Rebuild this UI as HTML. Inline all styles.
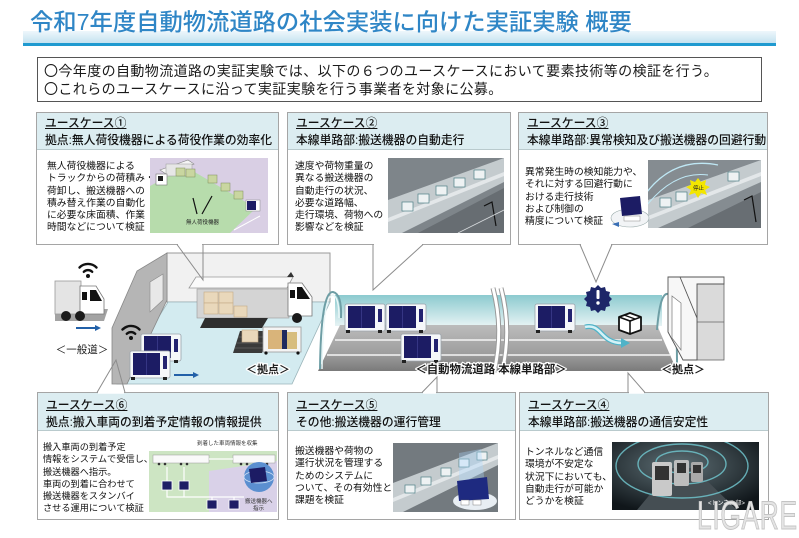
<!DOCTYPE html>
<html><head><meta charset="utf-8">
<style>
*{margin:0;padding:0;box-sizing:border-box}
body{width:799px;height:533px;position:relative;background:#fff;overflow:hidden;font-family:"Liberation Sans","Noto Sans CJK JP",sans-serif;color:#222}
.abs{position:absolute}
.title{left:30px;top:8px;font-size:23.3px;line-height:28px;color:#2f86c6;font-weight:500;white-space:nowrap;z-index:2}
.band{left:23px;top:31px;width:753px;height:12px;background:linear-gradient(to bottom,#eef7fc,#c4e2f0);z-index:1}
.bline{left:23px;top:43px;width:753px;height:3px;background:#1f9ad0;z-index:1}
.intro{left:37px;top:57px;width:725px;height:45px;border:1px solid #555;font-size:14px;letter-spacing:0.4px;line-height:17.5px;padding:5px 0 0 6px;white-space:nowrap;color:#1a1a1a}
.card{position:absolute;border:1px solid #a5a5a5;background:#fff;z-index:2}
.hd{background:#dcedf1;border-bottom:1px solid #b9cacd;font-size:11.8px;line-height:17px;color:#111;white-space:nowrap;padding-left:8px;font-weight:500}
.hd u{text-decoration:underline;text-underline-offset:1px}
.bd{position:absolute;font-size:9.8px;line-height:12.3px;white-space:nowrap;color:#111}
.im{position:absolute}
.lig{left:697px;top:494px;font-size:40px;line-height:44px;transform:scaleX(.66);transform-origin:left top;color:#e4e4e4;-webkit-text-stroke:1px #c4c4c4;z-index:4;letter-spacing:1px}
</style></head><body>

<div class="abs band"></div>
<div class="abs bline"></div>
<div class="abs title">令和7年度自動物流道路の社会実装に向けた実証実験 概要</div>

<div class="abs intro">〇今年度の自動物流道路の実証実験では、以下の６つのユースケースにおいて要素技術等の検証を行う。<br>〇これらのユースケースに沿って実証実験を行う事業者を対象に公募。</div>

<!-- middle illustration -->
<svg class="abs" style="left:0;top:0;z-index:0" width="799" height="533">
<defs>
<linearGradient id="tun" x1="0" y1="0" x2="0" y2="1"><stop offset="0" stop-color="#8ccacf"/><stop offset="1" stop-color="#e6f3f4"/></linearGradient>
<linearGradient id="road" x1="0" y1="0" x2="0" y2="1"><stop offset="0" stop-color="#bcbcbc"/><stop offset="0.65" stop-color="#9c9c9c"/><stop offset="1" stop-color="#7a7a7a"/></linearGradient>
<g id="car">
<rect x="0" y="1" width="40" height="27" rx="2" fill="#f5f7f9" stroke="#9aa3ab" stroke-width="0.8"/>
<rect x="3" y="3" width="27" height="22" fill="#1c1c64"/>
<line x1="16.5" y1="3" x2="16.5" y2="25" stroke="#3d3d8c" stroke-width="0.8"/>
<rect x="33" y="6" width="4" height="13" fill="#232370"/>
<rect x="1" y="27" width="4" height="3" fill="#222"/><rect x="33" y="27" width="4" height="3" fill="#222"/>
</g>
<g id="wifi" fill="none" stroke="#111" stroke-width="2.4" stroke-linecap="round">
<path d="M-4.2,-4.2 A6,6 0 0 1 4.2,-4.2"/>
<path d="M-8.5,-8.5 A12,12 0 0 1 8.5,-8.5"/>
<circle cx="0" cy="0" r="2" fill="#111" stroke="none"/>
</g>
</defs>

<!-- left truck general road -->
<polygon points="55,309 108,309 104,321 55,321" fill="#a3a3a3"/>
<rect x="55" y="281" width="26" height="33" fill="#e4e4e4" stroke="#999" stroke-width="0.8"/>
<polygon points="80,286 96,286 104,299 104,314 80,314" fill="#fff" stroke="#777" stroke-width="0.8"/>
<polygon points="90,290 96,290 102,301 90,301" fill="#111"/>
<rect x="82" y="292" width="5" height="8" fill="#111"/>
<circle cx="66" cy="316" r="5" fill="#1a1a1a"/><circle cx="80" cy="316" r="5" fill="#1a1a1a"/>
<use href="#wifi" x="88" y="276"/>
<line x1="76" y1="328" x2="96" y2="328" stroke="#2260a8" stroke-width="2"/>
<polygon points="95,325 101,328 95,331" fill="#2260a8"/>
<text x="82" y="353" font-size="10.5" text-anchor="middle" font-family="Liberation Sans,Noto Sans CJK JP,sans-serif" fill="#222">＜一般道＞</text>

<!-- base building -->
<rect x="167" y="253" width="163" height="49" fill="#f1f1f1" stroke="#999" stroke-width="1"/>
<polygon points="117,384 168,302 330,302 292,384" fill="#d3ebf0" stroke="#9bb5ba" stroke-width="0.8"/>
<polygon points="112,384 112,328 137,271 167,253 167,300 127,384" fill="#b5b5b5" stroke="#888" stroke-width="0.8"/>
<polygon points="150,282 163,274 163,300 150,312" fill="#e8e8e8" stroke="#888" stroke-width="0.6"/>
<!-- big truck -->
<rect x="197" y="289" width="92" height="29" fill="#d4d4d4" stroke="#999" stroke-width="0.6"/>
<polygon points="189,288 196,277 293,277 287,288" fill="#fafafa" stroke="#999" stroke-width="0.8"/>
<polygon points="287,277 291,272 294,277" fill="#333"/>
<rect x="204" y="292" width="14" height="11" fill="#e9d8bb" stroke="#c4ab85" stroke-width="0.6"/>
<rect x="219" y="292" width="14" height="11" fill="#e9d8bb" stroke="#c4ab85" stroke-width="0.6"/>
<rect x="204" y="303" width="14" height="11" fill="#e9d8bb" stroke="#c4ab85" stroke-width="0.6"/>
<rect x="219" y="303" width="14" height="11" fill="#e9d8bb" stroke="#c4ab85" stroke-width="0.6"/>
<rect x="234" y="306" width="13" height="11" fill="#e9d8bb" stroke="#c4ab85" stroke-width="0.6"/>
<polygon points="288,283 302,283 312,297 312,316 288,316" fill="#fff" stroke="#777" stroke-width="0.8"/>
<polygon points="297,287 302,287 310,299 297,299" fill="#111"/>
<rect x="290" y="290" width="5" height="8" fill="#111"/>
<circle cx="297" cy="318" r="5" fill="#1a1a1a"/>
<polygon points="205,318 268,318 262,328 200,328" fill="#2e2e2e"/>
<polygon points="240,331 270,331 262,353 233,353" fill="#3a3a3a"/>
<line x1="238" y1="337" x2="267" y2="337" stroke="#777" stroke-width="0.6"/>
<line x1="236" y1="343" x2="265" y2="343" stroke="#777" stroke-width="0.6"/>
<line x1="235" y1="348" x2="263" y2="348" stroke="#777" stroke-width="0.6"/>
<rect x="242" y="330" width="16" height="12" fill="#e9d8bb" stroke="#c4ab85" stroke-width="0.6"/>
<!-- cart -->
<rect x="263" y="327" width="38" height="25" fill="#f4f4f4" stroke="#999" stroke-width="0.8"/>
<rect x="268" y="330" width="14" height="19" fill="#d9b47a"/>
<rect x="282" y="330" width="5" height="19" fill="#1f2a5e"/>
<rect x="287" y="332" width="10" height="17" fill="#d7bd7e"/>
<circle cx="266" cy="353" r="1.6" fill="#111"/><circle cx="298" cy="353" r="1.6" fill="#111"/>
<!-- carriers in base -->
<use href="#car" x="141" y="333"/>
<use href="#car" x="130" y="350"/>
<use href="#wifi" x="131" y="338"/>
<line x1="174" y1="375" x2="194" y2="375" stroke="#2260a8" stroke-width="2"/>
<polygon points="193,372 199,375 193,378" fill="#2260a8"/>
<text x="268" y="373" font-size="11" font-weight="700" text-anchor="middle" fill="#222" stroke="#fff" stroke-width="2.5" paint-order="stroke" font-family="Liberation Sans,Noto Sans CJK JP,sans-serif">＜拠点＞</text>

<!-- tunnel / main road -->
<rect x="335" y="295" width="327" height="31" fill="url(#tun)"/>
<polygon points="340,325 657,325 677,371 318,371" fill="url(#road)"/>
<line x1="335" y1="340" x2="662" y2="340" stroke="#f4f4f4" stroke-width="1.4"/>
<line x1="327" y1="355" x2="670" y2="355" stroke="#f4f4f4" stroke-width="1.4"/>
<path d="M320,369 Q321,291 333,292 Q342,294 341,318" fill="none" stroke="#6e9ea5" stroke-width="2"/>
<path d="M322,369 Q323,295 333,295 Q339,297 339,318" fill="none" stroke="#e8f6f7" stroke-width="1.5"/>
<path d="M657,330 Q660,292 668,294 Q677,298 677,365" fill="none" stroke="#6e9ea5" stroke-width="2"/>
<path d="M493,288 Q504,330 494,372" fill="none" stroke="#999" stroke-width="5"/>
<path d="M493,288 Q504,330 494,372" fill="none" stroke="#fff" stroke-width="3"/>
<path d="M501,288 Q512,330 502,372" fill="none" stroke="#999" stroke-width="5"/>
<path d="M501,288 Q512,330 502,372" fill="none" stroke="#fff" stroke-width="3"/>
<use href="#car" x="345" y="303"/>
<use href="#car" x="386" y="303"/>
<use href="#car" x="401" y="333"/>
<use href="#car" x="535" y="303"/>
<!-- alert badge -->
<polygon points="598,285 601,288 605,287 606,291 610,292 609,296 612,299 609,302 610,306 606,307 605,311 601,310 598,313 595,310 591,311 590,307 586,306 587,302 584,299 587,296 586,292 590,291 591,287 595,288" fill="#1d2668"/>
<rect x="596.5" y="290" width="3" height="9" rx="1" fill="#fff"/>
<circle cx="598" cy="303" r="1.7" fill="#fff"/>
<!-- cyan arrow -->
<path d="M585,327 C602,323 600,343 622,343" fill="none" stroke="#4fb3c8" stroke-width="5"/>
<path d="M585,327 C602,323 600,343 622,343" fill="none" stroke="#d4f2f7" stroke-width="2.5"/>
<polygon points="621,338 630,343 621,348" fill="#4fb3c8"/>
<!-- box icon -->
<polygon points="619,317 630,313 641,317 641,330 630,334 619,330" fill="#fff" stroke="#111" stroke-width="1.8" stroke-linejoin="round"/>
<polyline points="619,317 630,321 641,317" fill="none" stroke="#111" stroke-width="1.6"/>
<line x1="630" y1="321" x2="630" y2="334" stroke="#111" stroke-width="1.6"/>
<line x1="624" y1="315" x2="635" y2="319" stroke="#111" stroke-width="1.2"/>
<!-- right building -->
<rect x="697" y="284" width="27" height="76" fill="#dadada" stroke="#666" stroke-width="0.8"/>
<line x1="697" y1="322" x2="724" y2="322" stroke="#666" stroke-width="0.8"/>
<polygon points="668,277 724,277 724,284 697,284 697,360 683,360 668,332" fill="#f7f7f7" stroke="#555" stroke-width="0.9"/>
<line x1="680" y1="277" x2="697" y2="318" stroke="#555" stroke-width="0.9"/>
<polygon points="672,296 681,303 681,350 672,338" fill="#fff" stroke="#777" stroke-width="0.7"/>
<text x="491" y="373" font-size="11.4" font-weight="700" text-anchor="middle" fill="#1a1a1a" stroke="#fff" stroke-width="2.5" paint-order="stroke" font-family="Liberation Sans,Noto Sans CJK JP,sans-serif">＜自動物流道路 本線単路部＞</text>
<text x="683" y="373" font-size="11" font-weight="700" text-anchor="middle" fill="#1a1a1a" stroke="#fff" stroke-width="2.5" paint-order="stroke" font-family="Liberation Sans,Noto Sans CJK JP,sans-serif">＜拠点＞</text>
</svg>

<!-- Card 1 -->
<div class="card" style="left:36px;top:112px;width:243px;height:133px">
<div class="hd" style="height:37px;padding-top:2px"><u>ユースケース①</u><br>拠点:無人荷役機器による荷役作業の効率化</div>
<div class="bd" style="left:10px;top:48px">無人荷役機器による<br>トラックからの荷積み・<br>荷卸し、搬送機器への<br>積み替え作業の自動化<br>に必要な床面積、作業<br>時間などについて検証</div>
<svg class="im" style="left:113px;top:45px" width="118" height="75">
<rect width="118" height="75" fill="#d9cfe4"/>
<polygon points="0,28 36,9 106,50 80,75 0,75" fill="#b7dcac"/>
<polygon points="10,12 38,2 44,6 16,16" fill="#f5f5f5" stroke="#888" stroke-width=".6"/>
<rect x="16" y="6" width="26" height="12" fill="#e6e6e6" stroke="#999" stroke-width=".5"/>
<rect x="6" y="16" width="11" height="11" fill="#fff" stroke="#777" stroke-width=".6"/>
<rect x="8" y="18" width="5" height="5" fill="#222"/>
<rect x="26" y="10" width="9" height="8" fill="#c9d6a0" stroke="#7f8d5a" stroke-width=".5"/>
<rect x="36" y="11" width="9" height="8" fill="#c9d6a0" stroke="#7f8d5a" stroke-width=".5"/>
<rect x="58" y="17" width="9" height="8" fill="#c9d6a0" stroke="#7f8d5a" stroke-width=".5"/>
<rect x="71" y="25" width="9" height="8" fill="#c9d6a0" stroke="#7f8d5a" stroke-width=".5"/>
<rect x="84" y="33" width="9" height="8" fill="#c9d6a0" stroke="#7f8d5a" stroke-width=".5"/>
<rect x="96" y="42" width="14" height="11" fill="#fff" stroke="#888" stroke-width=".5"/>
<rect x="97" y="43" width="9" height="9" fill="#1c1c64"/>
<line x1="47" y1="56" x2="43" y2="40" stroke="#111" stroke-width="1.2"/>
<line x1="52" y1="56" x2="62" y2="38" stroke="#111" stroke-width="1.2"/>
<text x="36" y="66" font-size="5.5" fill="#222" font-family="Liberation Sans,Noto Sans CJK JP,sans-serif">無人荷役機器</text>
<line x1="84" y1="72" x2="110" y2="58" stroke="#fff" stroke-width="1"/>
</svg>
</div>

<!-- Card 2 -->
<div class="card" style="left:287px;top:112px;width:224px;height:133px">
<div class="hd" style="height:37px;padding-top:2px"><u>ユースケース②</u><br>本線単路部:搬送機器の自動走行</div>
<div class="bd" style="left:7px;top:48px">速度や荷物重量の<br>異なる搬送機器の<br>自動走行の状況、<br>必要な道路幅、<br>走行環境、荷物への<br>影響などを検証</div>
<svg class="im" style="left:100px;top:45px" width="116" height="75">
<rect width="116" height="75" fill="#7e858a"/>
<polygon points="0,42 116,0 116,24 14,75 0,75" fill="#c4cbce"/>
<polygon points="0,60 116,14 116,18 0,64" fill="#e3e7e9"/>
<polygon points="30,75 116,30 116,75" fill="#676d72"/>
<g fill="#eef2f3" stroke="#4d7f86" stroke-width=".7">
<rect x="14" y="44" width="11" height="9"/><rect x="30" y="36" width="11" height="9"/><rect x="48" y="28" width="11" height="9"/><rect x="66" y="20" width="11" height="9"/><rect x="86" y="12" width="11" height="9"/>
</g>
<path d="M96,48 L104,44 L108,68" fill="none" stroke="#111" stroke-width="1.2"/>
<line x1="70" y1="75" x2="116" y2="52" stroke="#d8dcde" stroke-width=".8"/>
</svg>
</div>

<!-- Card 3 -->
<div class="card" style="left:518px;top:112px;width:250px;height:133px">
<div class="hd" style="height:37px;padding-top:2px"><u>ユースケース③</u><br>本線単路部:異常検知及び搬送機器の回避行動</div>
<svg class="im" style="left:129px;top:47px" width="113" height="68">
<rect width="113" height="68" fill="#858c91"/>
<polygon points="0,40 113,0 113,22 10,68 0,68" fill="#c4cbce"/>
<polygon points="0,56 113,12 113,16 0,60" fill="#e3e7e9"/>
<polygon points="40,68 113,32 113,68" fill="#686e73"/>
<g fill="#eef2f3" stroke="#4d7f86" stroke-width=".7">
<rect x="12" y="38" width="11" height="9"/><rect x="28" y="32" width="11" height="9"/><rect x="80" y="12" width="11" height="9"/>
</g>
<polygon points="50,18 53,22 58,20 57,25 62,27 57,30 59,35 53,33 50,38 47,33 41,35 43,30 38,27 43,25 42,20 47,22" fill="#f3e600"/>
<text x="45" y="30" font-size="5.5" fill="#222" font-family="Liberation Sans,Noto Sans CJK JP,sans-serif">停止</text>
<path d="M-10,45 Q20,-5 70,5" fill="none" stroke="#bfe8f5" stroke-width="1.3"/>
<path d="M-5,50 Q25,10 60,15" fill="none" stroke="#bfe8f5" stroke-width="1"/>
<path d="M96,40 L104,36 L108,62" fill="none" stroke="#111" stroke-width="1.2"/>
</svg>
<svg class="im" style="left:91px;top:81px" width="42" height="36">
<ellipse cx="20" cy="24" rx="19" ry="9" fill="#f2f4f6" stroke="#9aa" stroke-width=".6"/>
<polygon points="10,4 30,2 32,20 12,22" fill="#1c1c64"/>
<rect x="14" y="22" width="16" height="5" fill="#fff" stroke="#888" stroke-width=".5"/>
<polygon points="2,30 9,28 9,33" fill="#3a6fb5"/>
</svg>
<div class="bd" style="left:6px;top:54px">異常発生時の検知能力や、<br>それに対する回避行動に<br>おける走行技術<br>および制御の<br>精度について検証</div>
</div>

<!-- Card 6 -->
<div class="card" style="left:37px;top:392px;width:242px;height:128px">
<div class="hd" style="height:38px;padding-top:4px"><u>ユースケース⑥</u><br>拠点:搬入車両の到着予定情報の情報提供</div>
<div class="bd" style="left:5px;top:48px;font-size:9.2px">搬入車両の到着予定<br>情報をシステムで受信し、<br>搬送機器へ指示。<br>車両の到着に合わせて<br>搬送機器をスタンバイ<br>させる運用について検証</div>
<svg class="im" style="left:111px;top:46px" width="128" height="73">
<rect width="128" height="73" fill="#fff"/>
<rect x="0" y="12" width="128" height="61" fill="#cde5c3"/>
<polygon points="60,32 128,22 128,73 60,73" fill="#d9d1e8"/>
<rect x="4" y="16" width="56" height="8" fill="#fafafa" stroke="#999" stroke-width=".5"/>
<rect x="84" y="16" width="42" height="8" fill="#fafafa" stroke="#999" stroke-width=".5"/>
<g fill="#333"><circle cx="10" cy="25" r="1.3"/><circle cx="16" cy="25" r="1.3"/><circle cx="32" cy="25" r="1.3"/><circle cx="38" cy="25" r="1.3"/><circle cx="92" cy="25" r="1.3"/><circle cx="98" cy="25" r="1.3"/><circle cx="112" cy="25" r="1.3"/><circle cx="118" cy="25" r="1.3"/></g>
<g stroke="#fff" stroke-width="1.2" fill="none">
<line x1="18" y1="28" x2="18" y2="42"/><line x1="35" y1="28" x2="35" y2="42"/>
<polyline points="18,51 18,58 95,58"/><line x1="35" y1="51" x2="35" y2="58"/>
<line x1="63" y1="58" x2="63" y2="62"/><line x1="85" y1="58" x2="85" y2="62"/>
<line x1="60" y1="20" x2="84" y2="20"/>
</g>
<g fill="#1e1e66" stroke="#fff" stroke-width=".8">
<rect x="13" y="42" width="10" height="9"/><rect x="30" y="42" width="10" height="9"/><rect x="58" y="61" width="10" height="9"/><rect x="80" y="61" width="10" height="9"/>
</g>
<circle cx="110" cy="38" r="15" fill="#5b8fd0"/>
<ellipse cx="110" cy="38" rx="15" ry="6" fill="none" stroke="#cfe0f5" stroke-width=".8"/>
<polygon points="100,30 116,28 118,42 102,44" fill="#1c1c64"/>
<text x="48" y="6" font-size="5.5" fill="#333" font-family="Liberation Sans,Noto Sans CJK JP,sans-serif">到着した車両情報を収集</text>
<text x="96" y="64" font-size="5.5" fill="#333" font-family="Liberation Sans,Noto Sans CJK JP,sans-serif">搬送機器へ</text>
<text x="104" y="71" font-size="5.5" fill="#333" font-family="Liberation Sans,Noto Sans CJK JP,sans-serif">指示</text>
</svg>
</div>

<!-- Card 5 -->
<div class="card" style="left:287px;top:392px;width:229px;height:128px">
<div class="hd" style="height:38px;padding-top:4px"><u>ユースケース⑤</u><br>その他:搬送機器の運行管理</div>
<div class="bd" style="left:7px;top:53px">搬送機器や荷物の<br>運行状況を管理する<br>ためのシステムに<br>ついて、その有効性と<br>課題を検証</div>
<svg class="im" style="left:105px;top:50px" width="105" height="69">
<rect width="105" height="69" fill="#737a7f"/>
<polygon points="0,40 105,0 105,22 10,69 0,69" fill="#c4cbce"/>
<polygon points="0,55 105,12 105,16 0,59" fill="#e3e7e9"/>
<g fill="#eef2f3" stroke="#4d7f86" stroke-width=".7">
<rect x="12" y="42" width="10" height="8"/><rect x="28" y="34" width="10" height="8"/><rect x="48" y="25" width="10" height="8"/><rect x="66" y="16" width="10" height="8"/><rect x="84" y="9" width="10" height="8"/>
</g>
<polygon points="66,44 92,42 88,6 66,10" fill="#a8d8ff" opacity=".35"/>
<ellipse cx="82" cy="58" rx="22" ry="9" fill="#e8eef3"/>
<polygon points="64,38 94,34 96,56 66,58" fill="#1e2a80"/>
<rect x="68" y="57" width="8" height="5" fill="#fff" stroke="#666" stroke-width=".4"/><rect x="80" y="57" width="8" height="5" fill="#fff" stroke="#666" stroke-width=".4"/>
</svg>
</div>

<!-- Card 4 -->
<div class="card" style="left:519px;top:392px;width:250px;height:128px">
<div class="hd" style="height:38px;padding-top:4px"><u>ユースケース④</u><br>本線単路部:搬送機器の通信安定性</div>
<div class="bd" style="left:5px;top:54px">トンネルなど通信<br>環境が不安定な<br>状況下においても、<br>自動走行が可能か<br>どうかを検証</div>
<svg class="im" style="left:92px;top:49px" width="147" height="68">
<defs><radialGradient id="tg" cx="0.45" cy="0.35" r="0.7"><stop offset="0" stop-color="#5e6f75"/><stop offset="1" stop-color="#10161a"/></radialGradient></defs>
<rect width="147" height="68" fill="url(#tg)"/>
<polygon points="25,68 125,68 82,26 60,26" fill="#454e53"/>
<g fill="none" stroke="#6fc3cb" stroke-width="1.4" opacity=".85">
<ellipse cx="70" cy="24" rx="66" ry="32"/><ellipse cx="70" cy="22" rx="44" ry="20"/><ellipse cx="70" cy="20" rx="26" ry="11"/>
</g>
<rect x="40" y="20" width="20" height="34" rx="2" fill="#c9c9c9"/>
<rect x="43" y="24" width="14" height="14" fill="#333"/>
<rect x="62" y="18" width="15" height="26" rx="2" fill="#bdbdbd"/>
<rect x="65" y="21" width="9" height="10" fill="#333"/>
<rect x="79" y="20" width="12" height="20" rx="2" fill="#aaa"/>
<rect x="81" y="23" width="8" height="8" fill="#333"/>
<text x="96" y="63" font-size="6" fill="#fff" font-family="Liberation Sans,Noto Sans CJK JP,sans-serif">&lt;トンネル部&gt;</text>
</svg>
</div>

<!-- pointer overlay -->
<svg class="abs" style="left:0;top:0;z-index:3" width="799" height="533">
<g stroke="#fff" stroke-width="2.5">
<line x1="178" y1="244.5" x2="202" y2="244.5"/>
<line x1="374" y1="244.5" x2="422" y2="244.5"/>
<line x1="581" y1="244.5" x2="611" y2="244.5"/>
<line x1="98" y1="392.5" x2="124" y2="392.5"/>
<line x1="423" y1="392.5" x2="436" y2="392.5"/>
<line x1="629" y1="392.5" x2="644" y2="392.5"/>
</g>
<g stroke="#8c8c8c" stroke-width="1" fill="none">
<polyline points="177,244.5 203,280 203,244.5"/>
<polyline points="373,244.5 373,290 423,244.5"/>
<polyline points="580,244.5 596,282 612,244.5"/>
<polyline points="97,392.5 116,360 125,392.5"/>
<polyline points="422,392.5 437,377 437,392.5"/>
<polyline points="628,392.5 628,373 645,392.5"/>
</g>
</svg>

<div class="abs lig">LIGARE</div>
</body></html>
